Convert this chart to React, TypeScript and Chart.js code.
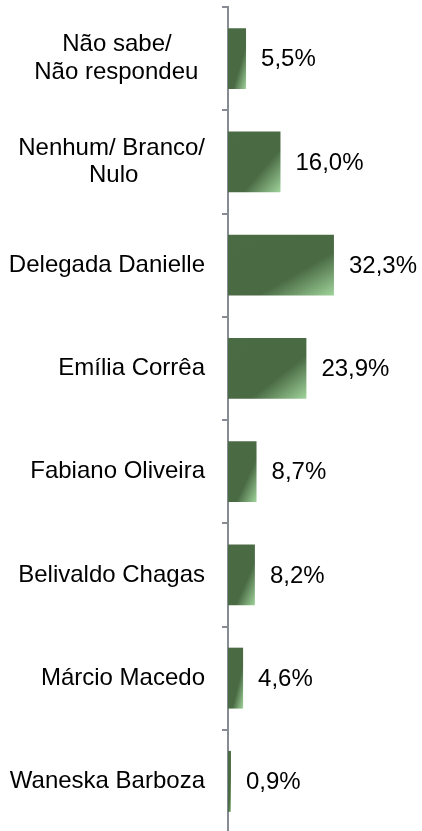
import { useEffect, useRef } from "react";
import { Chart, registerables } from "chart.js";

Chart.register(...registerables);

const categories: (string | string[])[] = [
  ["Não sabe/     ", "Não respondeu "],
  ["Nenhum/ Branco/", "Nulo          "],
  "Delegada Danielle",
  "Emília Corrêa",
  "Fabiano Oliveira",
  "Belivaldo Chagas",
  "Márcio Macedo",
  "Waneska Barboza",
];
const values = [5.5, 16.0, 32.3, 23.9, 8.7, 8.2, 4.6, 0.9];

const FONT = '"Liberation Sans", Arial, sans-serif';
const DARK = "#4b6b45";
const LIGHT = "#a0d49b";
const AXIS = "#878c94";
const BAR_PCT = 0.59;

const labelPlugin = {
  id: "valueLabels",
  afterDatasetsDraw(chart: any) {
    const ctx = chart.ctx;
    const meta = chart.getDatasetMeta(0);
    ctx.save();
    ctx.font = `24px ${FONT}`;
    ctx.fillStyle = "#000";
    ctx.textAlign = "left";
    ctx.textBaseline = "middle";
    meta.data.forEach((el: any, i: number) => {
      const txt = values[i].toFixed(1).replace(".", ",") + "%";
      ctx.fillText(txt, el.x + 15, el.y + 1);
    });
    ctx.restore();
  },
};

export default function App() {
  const ref = useRef<HTMLCanvasElement>(null);
  useEffect(() => {
    if (!ref.current) return;
    const chart = new Chart(ref.current, {
      type: "bar",
      data: {
        labels: categories,
        datasets: [
          {
            data: values,
            borderWidth: 0,
            barPercentage: BAR_PCT,
            categoryPercentage: 1,
            backgroundColor: (c: any) => {
              const ch = c.chart;
              const xs = ch.scales?.x;
              const ys = ch.scales?.y;
              if (!xs || !ys || c.type !== "data" || c.dataIndex == null) return DARK;
              const v = values[c.dataIndex];
              const x0 = xs.getPixelForValue(0);
              const x1 = xs.getPixelForValue(v);
              const yc = ys.getPixelForValue(c.dataIndex);
              const h = (ys.height / categories.length) * BAR_PCT;
              const y0 = yc - h / 2;
              const w = Math.max(1, x1 - x0);
              const k = (2 * w * h) / (w * w + h * h);
              const pts = [x0, y0, x0 + h * k, y0 + w * k];
              if (!pts.every((p) => Number.isFinite(p)) || h <= 0) return DARK;
              const g = ch.ctx.createLinearGradient(pts[0], pts[1], pts[2], pts[3]);
              g.addColorStop(0, DARK);
              g.addColorStop(0.64, "#4a6a44");
              g.addColorStop(1, LIGHT);
              return g;
            },
          },
        ],
      },
      options: {
        indexAxis: "y",
        animation: false,
        responsive: false,
        devicePixelRatio: 1,
        layout: { padding: { top: 7, right: 30, bottom: 3, left: 0 } },
        plugins: {
          legend: { display: false },
          tooltip: { enabled: false },
        },
        scales: {
          x: {
            display: false,
            min: 0,
            max: 50,
          },
          y: {
            afterFit: (s: any) => {
              s.width = 228;
              s.paddingTop = 0;
              s.paddingBottom = 0;
            },
            border: { display: true, color: AXIS, width: 2 },
            grid: {
              offset: true,
              drawOnChartArea: false,
              drawTicks: true,
              tickLength: 6,
              color: AXIS,
              lineWidth: 2,
            },
            ticks: {
              padding: 17,
              color: "#000",
              font: { family: FONT, size: 24, lineHeight: 1.15 },
              autoSkip: false,
            },
          },
        },
      },
      plugins: [labelPlugin],
    } as any);
    return () => chart.destroy();
  }, []);
  return (
    <div style={{ position: "absolute", left: 0, top: 0, width: 422, height: 836 }}>
      <canvas ref={ref} width={422} height={836} style={{ display: "block" }} />
    </div>
  );
}
